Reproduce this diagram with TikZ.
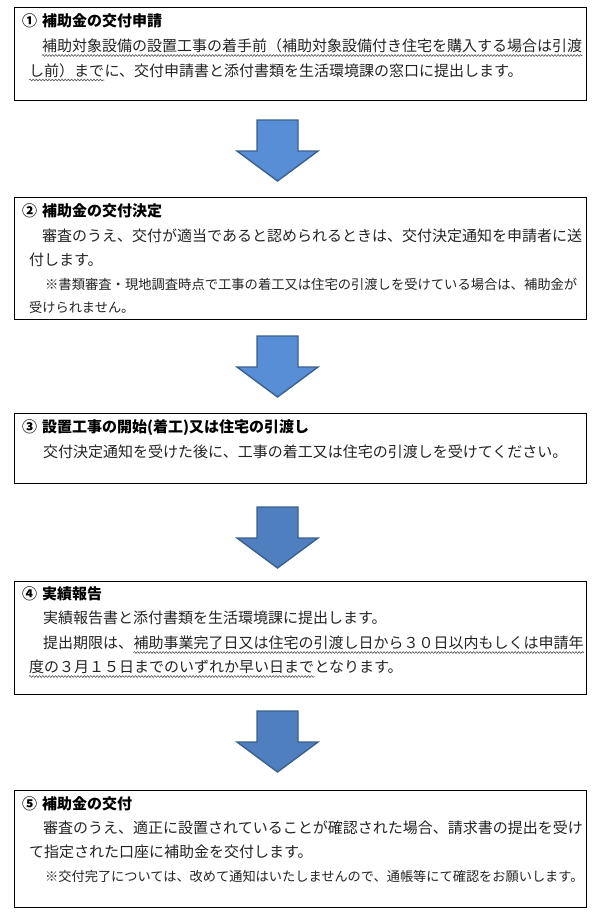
\documentclass[tikz,border=0pt]{standalone}
\usepackage{fontspec}
\newfontfamily\jpfont{Noto Sans CJK JP}
\usetikzlibrary{decorations.pathmorphing}

\definecolor{arrowlight}{RGB}{88,142,214}
\definecolor{arrowdark}{RGB}{79,127,190}
\definecolor{arrowline}{RGB}{58,96,142}
\definecolor{bodytext}{RGB}{35,35,35}

\tikzset{
	stepframe/.style={draw=black, line width=0.9bp, inner sep=0pt, anchor=north west},
	headline/.style={anchor=base west, inner sep=0pt, font=\jpfont\bfseries\fontsize{15bp}{17bp}\selectfont},
	bodyline/.style={anchor=base west, inner sep=0pt, text=bodytext, font=\jpfont\fontsize{15bp}{17bp}\selectfont},
	noteline/.style={anchor=base west, inner sep=0pt, text=bodytext, font=\jpfont\fontsize{13.2bp}{15bp}\selectfont},
	wavy/.style={draw=black!70, line width=0.55bp, decorate, decoration={snake, amplitude=0.9bp, segment length=3.2bp}},
	flowarrow/.style={draw=arrowline, line width=1.4bp, line join=miter}
}

\begin{document}
\begin{tikzpicture}[x=1bp,y=-1bp]
	\useasboundingbox (0,0) rectangle (596,918);
	% frames
	\node[stepframe, minimum width=572bp, minimum height=93bp] (box1) at (14,7) {};
	\node[stepframe, minimum width=572bp, minimum height=122bp] (box2) at (14,197) {};
	\node[stepframe, minimum width=572bp, minimum height=70bp] (box3) at (14,413) {};
	\node[stepframe, minimum width=572bp, minimum height=113bp] (box4) at (14,581) {};
	\node[stepframe, minimum width=572bp, minimum height=117bp] (box5) at (14,790) {};
	% block arrows
	\foreach \ay/\shade in {120/arrowlight,336/arrowlight,507/arrowdark,711/arrowdark}
		\draw[flowarrow, fill=\shade] (257,\ay) -- (298,\ay) -- (298,\ay+31) -- (318,\ay+31)
			-- (277.5,\ay+61) -- (237,\ay+31) -- (257,\ay+31) -- cycle;

	% 1
	\node[headline] (h1) at (22,26.5) {①\hspace{5bp}補助金の交付申請};
	\node[bodyline] (l1a) at (42,51.5) {補助対象設備の設置工事の着手前（補助対象設備付き住宅を購入する場合は引渡};
	\node[bodyline] (l1b) at (29,76) {し前）まで};
	\node[bodyline] (l1c) at (l1b.base east) {に、交付申請書と添付書類を生活環境課の窓口に提出します。};
	\draw[wavy] ([yshift=-4bp]l1a.base west) -- ([yshift=-4bp]l1a.base east);
	\draw[wavy] ([yshift=-4bp]l1b.base west) -- ([yshift=-4bp]l1b.base east);

	% 2
	\node[headline] (h2) at (22,216.5) {②\hspace{5bp}補助金の交付決定};
	\node[bodyline] (l2a) at (42,241.5) {審査のうえ、交付が適当であると認められるときは、交付決定通知を申請者に送};
	\node[bodyline] (l2b) at (29,265.5) {付します。};
	\node[noteline, font=\jpfont\fontsize{13.3bp}{15bp}\selectfont] (n2a) at (45,289) {※書類審査・現地調査時点で工事の着工又は住宅の引渡しを受けている場合は、補助金が};
	\node[noteline] (n2b) at (29,312) {受けられません。};

	% 3
	\node[headline] (h3) at (22,432.5) {③\hspace{5bp}設置工事の開始(着工)又は住宅の引渡し};
	\node[bodyline] (l3a) at (43,457.5) {交付決定通知を受けた後に、工事の着工又は住宅の引渡しを受けてください。};

	% 4
	\node[headline] (h4) at (22,599.5) {④\hspace{5bp}実績報告};
	\node[bodyline] (l4a) at (43,623.5) {実績報告書と添付書類を生活環境課に提出します。};
	\node[bodyline] (l4b) at (43,648.5) {提出期限は、};
	\node[bodyline] (l4c) at (l4b.base east) {補助事業完了日又は住宅の引渡し日から３０日以内もしくは申請年};
	\node[bodyline] (l4d) at (29,672.5) {度の３月１５日までのいずれか早い日まで};
	\node[bodyline] (l4e) at (l4d.base east) {となります。};
	\draw[wavy] ([yshift=-4bp]l4c.base west) -- ([yshift=-4bp]l4c.base east);
	\draw[wavy] ([yshift=-4bp]l4d.base west) -- ([yshift=-4bp]l4d.base east);

	% 5
	\node[headline] (h5) at (22,809.5) {⑤\hspace{5bp}補助金の交付};
	\node[bodyline] (l5a) at (43,833.5) {審査のうえ、適正に設置されていることが確認された場合、請求書の提出を受け};
	\node[bodyline] (l5b) at (29,857.5) {て指定された口座に補助金を交付します。};
	\node[noteline] (n5a) at (45,881) {※交付完了については、改めて通知はいたしませんので、通帳等にて確認をお願いします。};
\end{tikzpicture}
\end{document}
